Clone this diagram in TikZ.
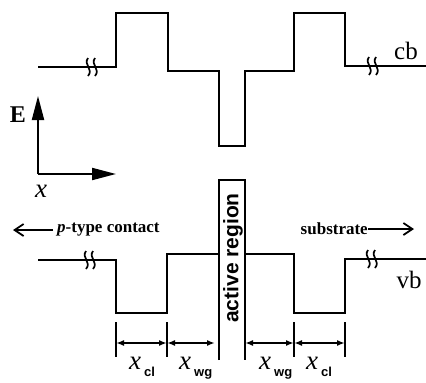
\documentclass[tikz,border=0pt]{standalone}
\usepackage{fontspec}
\setmainfont{Liberation Serif}
\newfontfamily\sansf{Liberation Sans}
\usetikzlibrary{arrows.meta}
\tikzset{
  band/.style={line width=2.2pt, line join=miter},
  tick/.style={line width=1.8pt},
  dimarrow/.style={line width=1.6pt, {Latex[length=8pt,width=6pt]}-{Latex[length=8pt,width=6pt]}},
  axisarrow/.style={line width=2pt, -{Triangle[length=24pt,width=12pt]}},
  barbarrow/.style={line width=1.8pt, -{Straight Barb[length=9pt,width=12pt,line width=1.8pt]}},
  lbl/.style={inner sep=0pt, font=\fontsize{17}{17}\selectfont\bfseries},
  big/.style={inner sep=0pt, font=\fontsize{25}{25}\selectfont},
  dimlbl/.style={anchor=base west, inner sep=0pt, font=\fontsize{27}{27}\selectfont},
  brk/.pic={\draw[line width=1.7pt] (-5,-9) .. controls (-10,-2) and (1,2) .. (-5,9);
            \draw[line width=1.7pt] (2,-9) .. controls (-3,-2) and (8,2) .. (2,9);}
}
\newcommand{\xsub}[1]{{\itshape x}\hspace{3pt}\raisebox{-7pt}{\fontsize{13}{13}\selectfont\sansf\bfseries #1}}
\begin{document}
\begin{tikzpicture}[x=1pt,y=-1pt]
\useasboundingbox (0,0) rectangle (426,383);
% conduction band
\draw[band] (38,67) -- (116,67) -- (116,13) -- (168,13) -- (168,71) -- (219,71)
  -- (219,146) -- (245,146) -- (245,71) -- (294,71) -- (294,13) -- (345,13)
  -- (345,66) -- (426,66);
\pic at (93,67) {brk};
\pic at (374,66) {brk};
\node[big, anchor=base] (cb) at (406,59) {cb};
% valence band
\draw[band] (38,260) -- (116,260) -- (116,313) -- (167,313) -- (167,254) -- (219,254);
\draw[band] (219,360) -- (219,180) -- (245,180) -- (245,360);
\draw[band] (245,254) -- (294,254) -- (294,313) -- (345,313) -- (345,259) -- (426,259);
\pic at (91,260) {brk};
\pic at (373,259) {brk};
\node[big, anchor=base] (vb) at (409,288) {vb};
\node[inner sep=0pt, rotate=90, font=\fontsize{21}{21}\selectfont\sansf\bfseries] (act) at (233,258) {active region};
% axes
\coordinate (o) at (38,174);
\coordinate (ey) at (38,96);
\coordinate (ex) at (116,174);
\draw[axisarrow] (o) -- (ey);
\draw[axisarrow] (o) -- (ex);
\node[inner sep=0pt, font=\fontsize{24}{24}\selectfont\bfseries] (E) at (18,115) {E};
\node[inner sep=0pt, font=\fontsize{27}{27}\selectfont\itshape] (xl) at (41,191) {x};
% direction labels
\node[lbl, anchor=west] (ptc) at (57,230) {{\itshape p}-type contact};
\coordinate (pl) at (13,230);
\draw[barbarrow] ([xshift=-4pt]ptc.west) -- (pl);
\node[lbl, anchor=east] (sub) at (368,229) {substrate};
\coordinate (sr) at (414,229);
\draw[barbarrow] (sub.east) -- (sr);
% dimension ticks
\foreach \n/\xx in {t1/116, t2/167, t5/294, t6/345} {
  \draw[tick] (\xx,322) -- (\xx,357);
  \coordinate (\n) at (\xx,343);
}
\coordinate (t3) at (215,343);
\coordinate (t4) at (245,343);
\draw[dimarrow] (t1) -- (t2);
\draw[dimarrow] (t2) -- (t3);
\draw[dimarrow] (t4) -- (t5);
\draw[dimarrow] (t5) -- (t6);
\node[dimlbl] (xc1) at (129,369) {\xsub{cl}};
\node[dimlbl] (xw1) at (179,369) {\xsub{wg}};
\node[dimlbl] (xw2) at (259,369) {\xsub{wg}};
\node[dimlbl] (xc2) at (306,369) {\xsub{cl}};
\end{tikzpicture}
\end{document}
